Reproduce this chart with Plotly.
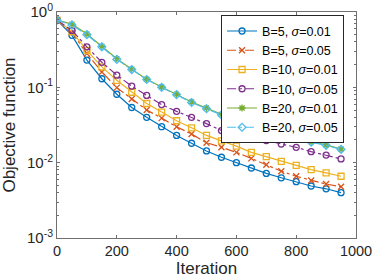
import plotly.graph_objects as go

iterations = list(range(0, 1000, 50))

b5_s001 = [0.78, 0.49, 0.23, 0.13, 0.081, 0.054, 0.040, 0.030, 0.023, 0.0181,
           0.0143, 0.0118, 0.0100, 0.0085, 0.0072, 0.0063, 0.0056, 0.0049, 0.0045, 0.0040]
b5_s005 = [0.78, 0.53, 0.28, 0.16, 0.099, 0.070, 0.050, 0.039, 0.030, 0.024,
           0.0184, 0.0160, 0.0137, 0.0114, 0.0094, 0.0077, 0.0066, 0.0058, 0.0052, 0.0048]
b10_s001 = [0.78, 0.55, 0.31, 0.187, 0.124, 0.086, 0.061, 0.047, 0.036, 0.029,
            0.023, 0.0195, 0.0166, 0.0137, 0.0120, 0.0104, 0.0092, 0.0081, 0.0073, 0.0066]
b10_s005 = [0.78, 0.57, 0.345, 0.215, 0.145, 0.104, 0.078, 0.059, 0.048, 0.040,
            0.033, 0.0267, 0.0230, 0.0207, 0.0197, 0.0177, 0.0160, 0.0140, 0.0126, 0.0112]
b20_s001 = [0.78, 0.69, 0.51, 0.35, 0.24, 0.174, 0.128, 0.101, 0.081, 0.064,
            0.053, 0.0437, 0.037, 0.032, 0.0275, 0.024, 0.0218, 0.019, 0.0172, 0.0152]
b20_s005 = [0.78, 0.67, 0.50, 0.345, 0.235, 0.172, 0.127, 0.100, 0.080, 0.063,
            0.052, 0.043, 0.0365, 0.0315, 0.027, 0.0235, 0.0213, 0.0187, 0.0170, 0.0150]

series_names = ["B=5, <i>σ</i>=0.01", "B=5, <i>σ</i>=0.05", "B=10, <i>σ</i>=0.01",
                "B=10, <i>σ</i>=0.05", "B=20, <i>σ</i>=0.01", "B=20, <i>σ</i>=0.05"]
series_values = [b5_s001, b5_s005, b10_s001, b10_s005, b20_s001, b20_s005]
colors = ["#0072BD", "#D95319", "#EDB120", "#7E2F8E", "#77AC30", "#4DBEEE"]
dashes = ["solid", "dashdot", "solid", "dashdot", "solid", "dashdot"]
symbols = ["circle-open", "x-thin-open", "square-open", "circle-open", "asterisk-open", "diamond-open"]

y_tick_vals = [0.001, 0.01, 0.1, 1]
y_tick_text = ["10<sup>-3</sup>", "10<sup>-2</sup>", "10<sup>-1</sup>", "10<sup>0</sup>"]
x_tick_vals = [0, 200, 400, 600, 800, 1000]

fig = go.Figure()
for name, vals, c, d, s in zip(series_names, series_values, colors, dashes, symbols):
    fig.add_trace(go.Scatter(
        x=iterations, y=vals, name=name, mode="lines+markers",
        line=dict(color=c, width=1.2, dash=d),
        marker=dict(symbol=s, size=6, color=c, line=dict(color=c, width=1.3)),
    ))

minor_vals = []
for e in [0.001, 0.01, 0.1]:
    for k in range(2, 10):
        minor_vals.append(e * k)

axis_color = "#707070"
fig.update_layout(
    width=374, height=280,
    margin=dict(l=57, r=18, t=12, b=42),
    paper_bgcolor="white", plot_bgcolor="white",
    font=dict(family="Liberation Sans, Arial, sans-serif", color="#262626"),
    showlegend=True,
    legend=dict(
        x=0.96, y=0.985, xanchor="right", yanchor="top",
        bgcolor="white", bordercolor="#262626", borderwidth=1,
        font=dict(size=12.5, color="#000000"),
        itemwidth=30, tracegroupgap=0,
    ),
    xaxis=dict(
        range=[0, 1000], tickvals=x_tick_vals, ticks="inside", ticklen=3,
        tickcolor=axis_color, showline=True, linecolor=axis_color, linewidth=1,
        mirror="ticks", showgrid=False, zeroline=False, automargin=False,
        tickfont=dict(size=14.5),
        title=dict(text="Iteration", font=dict(size=17), standoff=2),
    ),
    yaxis=dict(
        type="log", range=[-3, 0], tickvals=y_tick_vals, ticktext=y_tick_text,
        ticks="inside", ticklen=3, tickcolor=axis_color,
        showline=True, linecolor=axis_color, linewidth=1,
        mirror="ticks", showgrid=False, zeroline=False, automargin=False,
        tickfont=dict(size=15),
        minor=dict(tickvals=minor_vals, ticks="inside", ticklen=2, tickcolor=axis_color),
        title=dict(text="Objective function", font=dict(size=17), standoff=7),
    ),
)

fig.write_html("out.html", config={"displayModeBar": False},
               post_script="document.body.style.margin='0px';")
